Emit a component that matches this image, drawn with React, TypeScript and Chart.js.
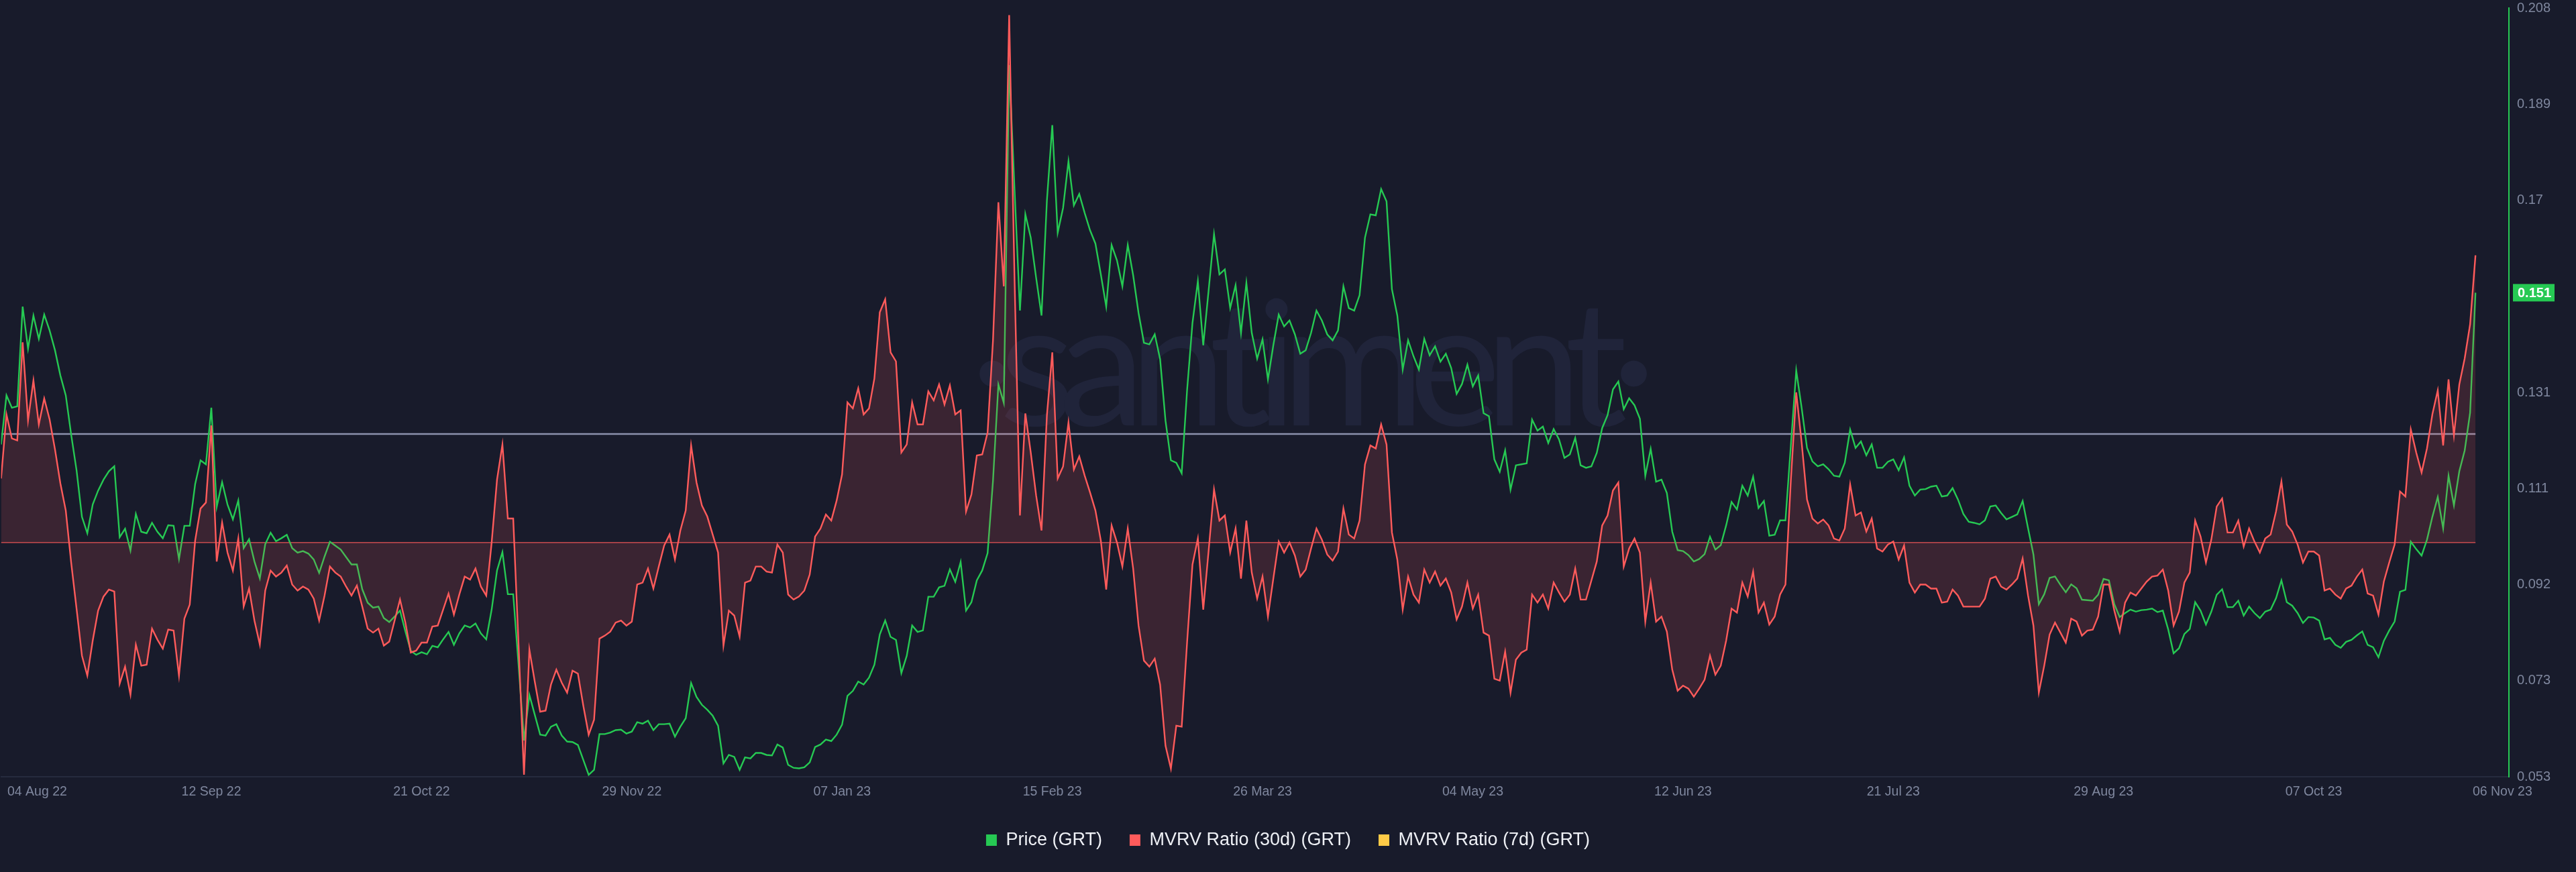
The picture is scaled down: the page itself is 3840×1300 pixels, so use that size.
import React, { useEffect, useRef } from 'react';
import { Chart, registerables } from 'chart.js';

Chart.register(...registerables);

// ---- data (one value per day, day 0 = 04 Aug 22, last day = 06 Nov 23) ----
const PRICE = [
  0.1203, 0.1302, 0.1277, 0.1280, 0.1481, 0.1396, 0.1463, 0.1416, 0.1465, 0.1433,
  0.1393, 0.1342, 0.1302, 0.1223, 0.1151, 0.1057, 0.1024, 0.1082, 0.1110, 0.1132,
  0.1149, 0.1159, 0.1016, 0.1033, 0.0989, 0.1063, 0.1027, 0.1024, 0.1045, 0.1027,
  0.1014, 0.1040, 0.1039, 0.0972, 0.1039, 0.1039, 0.1123, 0.1171, 0.1163, 0.1277,
  0.1077, 0.1127, 0.1082, 0.1052, 0.1090, 0.0994, 0.1012, 0.0967, 0.0933, 0.1002,
  0.1025, 0.1008, 0.1014, 0.1021, 0.0994, 0.0985, 0.0988, 0.0983, 0.0971, 0.0944,
  0.0977, 0.1007, 0.0999, 0.0991, 0.0976, 0.0961, 0.0961, 0.0911, 0.0884, 0.0874,
  0.0876, 0.0853, 0.0845, 0.0856, 0.0868, 0.0826, 0.0787, 0.0779, 0.0784, 0.0780,
  0.0797, 0.0794, 0.0810, 0.0825, 0.0799, 0.0822, 0.0838, 0.0834, 0.0842, 0.0822,
  0.0810, 0.0870, 0.0949, 0.0986, 0.0901, 0.0901, 0.0757, 0.0606, 0.0698, 0.0658,
  0.0618, 0.0616, 0.0634, 0.0639, 0.0616, 0.0604, 0.0603, 0.0597, 0.0567, 0.0537,
  0.0547, 0.0619, 0.0619, 0.0622, 0.0627, 0.0628, 0.0620, 0.0624, 0.0643, 0.0640,
  0.0646, 0.0627, 0.0639, 0.0639, 0.0640, 0.0614, 0.0634, 0.0651, 0.0722, 0.0694,
  0.0678, 0.0668, 0.0656, 0.0636, 0.0560, 0.0577, 0.0573, 0.0547, 0.0572, 0.0570,
  0.0581, 0.0581, 0.0577, 0.0576, 0.0598, 0.0592, 0.0557, 0.0551, 0.0550, 0.0552,
  0.0562, 0.0593, 0.0598, 0.0608, 0.0605, 0.0618, 0.0638, 0.0696, 0.0706, 0.0725,
  0.0719, 0.0733, 0.0759, 0.0820, 0.0848, 0.0815, 0.0809, 0.0742, 0.0777, 0.0838,
  0.0825, 0.0828, 0.0896, 0.0896, 0.0915, 0.0918, 0.0951, 0.0926, 0.0966, 0.0868,
  0.0885, 0.0929, 0.0949, 0.0984, 0.1130, 0.1324, 0.1287, 0.1968, 0.1716, 0.1473,
  0.1667, 0.1620, 0.1539, 0.1463, 0.1695, 0.1847, 0.1630, 0.1680, 0.1774, 0.1685,
  0.1708, 0.1670, 0.1635, 0.1608, 0.1546, 0.1481, 0.1605, 0.1574, 0.1522, 0.1605,
  0.1544, 0.1468, 0.1408, 0.1405, 0.1425, 0.1375, 0.1251, 0.1171, 0.1166, 0.1145,
  0.1312, 0.1448, 0.1532, 0.1403, 0.1514, 0.1627, 0.1546, 0.1556, 0.1478, 0.1524,
  0.1428, 0.1529, 0.1428, 0.1376, 0.1415, 0.1334, 0.1403, 0.1465, 0.1441, 0.1453,
  0.1425, 0.1386, 0.1393, 0.1428, 0.1473, 0.1453, 0.1425, 0.1413, 0.1433, 0.1522,
  0.1478, 0.1473, 0.1504, 0.1620, 0.1667, 0.1665, 0.1718, 0.1693, 0.1516, 0.1463,
  0.1354, 0.1413, 0.1381, 0.1354, 0.1416, 0.1383, 0.1401, 0.1370, 0.1386, 0.1357,
  0.1305, 0.1325, 0.1364, 0.1320, 0.1342, 0.1266, 0.1260, 0.1173, 0.1148, 0.1191,
  0.1112, 0.1161, 0.1163, 0.1165, 0.1253, 0.1231, 0.1239, 0.1206, 0.1234, 0.1213,
  0.1176, 0.1183, 0.1216, 0.1161, 0.1156, 0.1159, 0.1186, 0.1236, 0.1262, 0.1314,
  0.1330, 0.1274, 0.1296, 0.1282, 0.1255, 0.1140, 0.1194, 0.1128, 0.1132, 0.1105,
  0.1027, 0.0990, 0.0988, 0.0980, 0.0967, 0.0972, 0.0982, 0.1017, 0.0991, 0.1000,
  0.1040, 0.1087, 0.1072, 0.1120, 0.1100, 0.1138, 0.1075, 0.1089, 0.1019, 0.1021,
  0.1050, 0.1050, 0.1201, 0.1352, 0.1277, 0.1196, 0.1169, 0.1159, 0.1163, 0.1153,
  0.1140, 0.1138, 0.1166, 0.1233, 0.1196, 0.1209, 0.1181, 0.1203, 0.1156, 0.1156,
  0.1168, 0.1173, 0.1151, 0.1177, 0.1120, 0.1100, 0.1112, 0.1113, 0.1118, 0.1120,
  0.1098, 0.1100, 0.1115, 0.1092, 0.1063, 0.1047, 0.1045, 0.1042, 0.1050, 0.1078,
  0.1080, 0.1065, 0.1052, 0.1057, 0.1062, 0.1089, 0.1034, 0.0981, 0.0881, 0.0901,
  0.0934, 0.0937, 0.0920, 0.0905, 0.0921, 0.0913, 0.0890, 0.0889, 0.0888, 0.0900,
  0.0932, 0.0929, 0.0881, 0.0855, 0.0863, 0.0870, 0.0866, 0.0869, 0.0870, 0.0872,
  0.0865, 0.0868, 0.0830, 0.0782, 0.0792, 0.0821, 0.0831, 0.0885, 0.0868, 0.0840,
  0.0866, 0.0900, 0.0911, 0.0875, 0.0875, 0.0888, 0.0858, 0.0876, 0.0863, 0.0853,
  0.0866, 0.0870, 0.0893, 0.0929, 0.0885, 0.0878, 0.0863, 0.0843, 0.0855, 0.0854,
  0.0848, 0.0810, 0.0813, 0.0799, 0.0793, 0.0805, 0.0809, 0.0818, 0.0826, 0.0799,
  0.0794, 0.0774, 0.0807, 0.0828, 0.0846, 0.0906, 0.0910, 0.1007, 0.0992, 0.0979,
  0.1011, 0.1057, 0.1097, 0.1034, 0.1140, 0.1080, 0.1149, 0.1191, 0.1267, 0.1509,
];

// MVRV Ratio (30d), in percent
const MVRV_30D = [
  6.4, 12.8, 10.4, 10.2, 20.0, 12.2, 16.2, 11.8, 14.4, 12.3,
  9.3, 5.9, 3.2, -2.0, -6.6, -11.3, -13.3, -9.8, -6.8, -5.4,
  -4.7, -4.9, -14.1, -12.4, -15.2, -10.2, -12.3, -12.2, -8.6, -9.7,
  -10.6, -8.7, -8.8, -13.3, -7.6, -6.2, 0.2, 3.4, 4.0, 11.7,
  -1.9, 2.0, -1.0, -2.8, 0.4, -6.4, -4.6, -7.8, -10.2, -4.8,
  -2.8, -3.4, -3.0, -2.3, -4.2, -4.8, -4.4, -4.7, -5.6, -7.8,
  -5.3, -2.4, -3.0, -3.4, -4.4, -5.3, -4.3, -6.4, -8.6, -9.0,
  -8.6, -10.3, -9.9, -7.8, -5.7, -8.0, -11.0, -10.8, -10.0, -10.0,
  -8.4, -8.3, -6.7, -5.1, -7.2, -5.2, -3.4, -3.7, -2.6, -4.4,
  -5.3, 0.0, 6.3, 9.8, 2.4, 2.4, -10.3, -23.2, -10.7, -13.9,
  -16.9, -16.8, -14.2, -12.7, -14.0, -15.0, -12.8, -13.1, -16.3, -19.2,
  -17.7, -9.6, -9.3, -8.9, -8.0, -7.8, -8.3, -7.9, -4.2, -4.0,
  -2.6, -4.6, -2.4, -0.3, 0.8, -1.7, 1.2, 3.2, 9.7, 6.0,
  3.7, 2.6, 0.8, -1.0, -10.3, -6.8, -7.3, -9.4, -4.0, -3.8,
  -2.4, -2.4, -2.9, -3.0, -0.2, -1.0, -5.2, -5.7, -5.4, -4.8,
  -3.2, 0.6, 1.4, 2.8, 2.2, 4.2, 6.8, 14.0, 13.4, 15.4,
  12.8, 13.4, 16.4, 23.0, 24.3, 19.0, 18.1, 9.0, 9.8, 14.0,
  11.8, 11.8, 15.1, 14.2, 15.8, 13.8, 15.7, 12.8, 13.2, 3.1,
  4.8, 8.7, 8.8, 11.0, 20.2, 34.0, 25.6, 52.7, 26.2, 2.7,
  12.9, 9.0, 4.7, 1.2, 12.7, 19.0, 6.4, 7.6, 12.0, 7.3,
  8.6, 6.7, 5.0, 3.2, 0.2, -4.7, 1.7, 0.0, -2.4, 1.4,
  -2.6, -8.3, -11.8, -12.4, -11.6, -14.2, -20.3, -22.6, -18.3, -18.4,
  -10.0, -2.2, 0.4, -6.7, -0.8, 5.3, 2.2, 2.7, -1.0, 1.4,
  -3.6, 2.2, -3.0, -5.6, -3.4, -7.4, -3.6, 0.1, -1.0, 0.0,
  -1.3, -3.4, -2.7, -0.6, 1.4, 0.3, -1.2, -1.8, -0.9, 3.4,
  0.8, 0.4, 2.2, 7.8, 9.7, 9.4, 11.8, 9.8, 1.0, -1.7,
  -6.7, -3.4, -5.2, -6.0, -2.7, -4.0, -2.9, -4.3, -3.6, -5.0,
  -7.7, -6.4, -4.0, -6.6, -5.2, -9.0, -9.3, -13.6, -13.8, -10.9,
  -15.0, -11.7, -11.0, -10.7, -5.2, -6.0, -5.2, -6.6, -4.0, -5.0,
  -5.9, -5.2, -2.6, -5.7, -5.7, -3.8, -1.9, 1.7, 2.7, 5.2,
  6.0, -2.4, -0.6, 0.4, -1.0, -7.9, -4.0, -7.9, -7.4, -8.9,
  -12.7, -14.8, -14.3, -14.6, -15.4, -14.6, -13.7, -11.3, -13.2, -12.3,
  -9.8, -6.6, -7.0, -4.0, -5.4, -2.9, -7.0, -6.0, -8.2, -7.4,
  -5.2, -4.2, 6.2, 15.0, 10.0, 4.3, 2.4, 1.9, 2.3, 1.7,
  0.4, 0.2, 1.4, 5.8, 2.7, 3.0, 1.1, 2.4, -0.6, -0.9,
  -0.2, 0.1, -1.7, -0.3, -4.0, -5.0, -4.2, -4.2, -4.6, -4.6,
  -6.0, -5.9, -4.7, -5.3, -6.4, -6.4, -6.4, -6.4, -5.6, -3.6,
  -3.4, -4.4, -4.7, -4.2, -3.6, -1.6, -5.3, -8.3, -15.0, -12.3,
  -9.2, -8.0, -9.0, -10.0, -7.6, -7.9, -9.3, -8.8, -8.7, -7.4,
  -4.2, -4.2, -6.8, -8.9, -6.0, -5.0, -5.3, -4.6, -3.9, -3.4,
  -3.3, -2.7, -4.8, -8.3, -6.9, -4.0, -3.0, 2.2, 0.6, -2.0,
  0.3, 3.6, 4.4, 1.0, 1.0, 2.2, -0.4, 1.4, 0.1, -1.0,
  0.4, 0.8, 3.1, 6.1, 1.8, 1.1, -0.2, -2.0, -0.9, -0.9,
  -1.3, -4.8, -4.6, -5.2, -5.6, -4.6, -4.3, -3.4, -2.7, -5.1,
  -5.3, -7.2, -3.9, -2.0, -0.2, 5.1, 4.6, 11.3, 9.0, 7.0,
  9.4, 12.8, 15.2, 9.7, 16.3, 10.7, 15.8, 18.4, 21.8, 28.7,
];

const MVRV_7D: number[] = [];
const MVRV_REFERENCE_LEVEL = 10.85;
const MVRV_BASELINE = 0;

const SERIES_LABELS = ['Price (GRT)', 'MVRV Ratio (30d) (GRT)', 'MVRV Ratio (7d) (GRT)'];
const SERIES_COLORS = ['#26c953', '#ff5b5b', '#ffcb47'];

const X_TICK_DAYS = [0, 39, 78, 117, 156, 195, 234, 273, 312, 351, 390, 429, 459];
const X_TICK_LABELS = [
  '04 Aug 22', '12 Sep 22', '21 Oct 22', '29 Nov 22', '07 Jan 23', '15 Feb 23', '26 Mar 23',
  '04 May 23', '12 Jun 23', '21 Jul 23', '29 Aug 23', '07 Oct 23', '06 Nov 23',
];
const FIRST_LABEL_SHIFT_DAYS = 6.7;
const LAST_LABEL_SHIFT_DAYS = 5.0;
const X_MAX_DAY = 465.2;

const PRICE_MIN = 0.0533;
const PRICE_MAX = 0.2083;
const PRICE_TICKS = [0.0533, 0.07268, 0.09205, 0.11143, 0.1308, 0.15018, 0.16955, 0.18893, 0.2083];
const PRICE_TICK_LABELS = ['0.053', '0.073', '0.092', '0.111', '0.131', '0.15', '0.17', '0.189', '0.208'];
const MVRV_MIN = -23.4;
const MVRV_MAX = 53.4;

const BG = '#181b2b';
const FONT = "'Liberation Sans', Arial, sans-serif";
const TICK_COLOR = '#7f879e';

export default function App() {
  const ref = useRef<HTMLCanvasElement | null>(null);

  useEffect(() => {
    document.body.style.margin = '0';
    document.body.style.background = BG;
    const canvas = ref.current;
    if (!canvas) return;

    const lastDay = PRICE.length - 1;

    const bgPlugin = {
      id: 'bg',
      beforeDraw(chart: any) {
        const { ctx, width, height } = chart;
        ctx.save();
        ctx.fillStyle = BG;
        ctx.fillRect(0, 0, width, height);
        ctx.restore();
      },
    };

    const watermarkPlugin = {
      id: 'watermark',
      beforeDatasetsDraw(chart: any) {
        const { ctx, chartArea } = chart;
        ctx.save();
        ctx.font = "400 260px Lato, 'Open Sans', sans-serif";
        try {
          (ctx as any).letterSpacing = '-24px';
        } catch (e) {
          /* ignore */
        }
        ctx.fillStyle = '#20243a';
        ctx.textAlign = 'center';
        ctx.textBaseline = 'alphabetic';
        ctx.fillText('·santiment·', chartArea.left + chartArea.width * 0.52, chartArea.top + chartArea.height * 0.543);
        ctx.restore();
      },
    };

    const badgePlugin = {
      id: 'badge',
      afterDraw(chart: any) {
        const scale = chart.scales.price;
        const last = PRICE[PRICE.length - 1];
        const y = scale.getPixelForValue(last);
        const { ctx } = chart;
        ctx.save();
        ctx.fillStyle = SERIES_COLORS[0];
        ctx.fillRect(scale.left + 6, y - 13, 62, 26);
        ctx.fillStyle = '#ffffff';
        ctx.font = `600 20px ${FONT}`;
        ctx.textAlign = 'left';
        ctx.textBaseline = 'middle';
        ctx.fillText(last.toFixed(3), scale.left + 13, y + 1);
        ctx.restore();
      },
    };

    const chart = new Chart(canvas, {
      type: 'line',
      data: {
        datasets: [
          {
            label: SERIES_LABELS[0],
            data: PRICE.map((v, i) => ({ x: i, y: v })),
            yAxisID: 'price',
            borderColor: SERIES_COLORS[0],
            backgroundColor: SERIES_COLORS[0],
            borderWidth: 2.4,
            pointRadius: 0,
            pointHoverRadius: 0,
            tension: 0,
            fill: false,
            order: 2,
          },
          {
            label: SERIES_LABELS[1],
            data: MVRV_30D.map((v, i) => ({ x: i, y: v })),
            yAxisID: 'mvrv',
            borderColor: SERIES_COLORS[1],
            backgroundColor: 'rgba(255, 91, 91, 0.15)',
            borderWidth: 2.4,
            pointRadius: 0,
            pointHoverRadius: 0,
            tension: 0,
            fill: { value: MVRV_BASELINE },
            order: 1,
          },
          {
            label: SERIES_LABELS[2],
            data: MVRV_7D.map((v, i) => ({ x: i, y: v })),
            yAxisID: 'mvrv',
            borderColor: SERIES_COLORS[2],
            backgroundColor: SERIES_COLORS[2],
            borderWidth: 2,
            pointRadius: 0,
            order: 0,
          },
          {
            label: 'baseline',
            data: [{ x: 0, y: MVRV_BASELINE }, { x: lastDay, y: MVRV_BASELINE }],
            yAxisID: 'mvrv',
            borderColor: 'rgba(255, 91, 91, 0.9)',
            borderWidth: 1.3,
            pointRadius: 0,
            order: 4,
          },
          {
            label: 'reference',
            data: [{ x: 0, y: MVRV_REFERENCE_LEVEL }, { x: lastDay, y: MVRV_REFERENCE_LEVEL }],
            yAxisID: 'mvrv',
            borderColor: '#8b91ad',
            borderWidth: 2.5,
            pointRadius: 0,
            order: 3,
          },
        ],
      },
      options: {
        responsive: false,
        animation: false,
        events: [],
        layout: { padding: { top: 0, bottom: 24, left: 0, right: 0 } },
        plugins: {
          tooltip: { enabled: false },
          legend: {
            position: 'bottom',
            labels: {
              boxWidth: 16,
              boxHeight: 17,
              padding: 41,
              color: '#eef0f5',
              font: { size: 27, family: FONT },
              filter: (item: any) => item.datasetIndex <= 2,
              sort: (a: any, b: any) => a.datasetIndex - b.datasetIndex,
              generateLabels: (c: any) =>
                (Chart.defaults.plugins.legend.labels.generateLabels as any)(c).map((l: any) => ({
                  ...l,
                  fillStyle: SERIES_COLORS[l.datasetIndex] ?? l.fillStyle,
                  strokeStyle: SERIES_COLORS[l.datasetIndex] ?? l.strokeStyle,
                  lineWidth: 0,
                })),
            },
          },
        },
        scales: {
          x: {
            type: 'linear',
            min: 0,
            max: X_MAX_DAY,
            grid: { display: false, drawTicks: false },
            border: { display: true, color: '#262b3e', width: 2 },
            ticks: {
              color: TICK_COLOR,
              font: { size: 19.5, family: FONT },
              padding: 11,
              autoSkip: false,
              maxRotation: 0,
              minRotation: 0,
              callback: (_v: any, i: number) => X_TICK_LABELS[i],
            },
            afterBuildTicks: (s: any) => {
              s.ticks = X_TICK_DAYS.map((d, i) => ({
                value:
                  d +
                  (i === 0 ? FIRST_LABEL_SHIFT_DAYS : 0) +
                  (i === X_TICK_DAYS.length - 1 ? LAST_LABEL_SHIFT_DAYS : 0),
              }));
            },
            afterFit: (s: any) => {
              s.height = 40;
            },
          },
          price: {
            type: 'linear',
            position: 'right',
            min: PRICE_MIN,
            max: PRICE_MAX,
            grid: { display: false, drawTicks: false },
            border: { display: true, color: SERIES_COLORS[0], width: 2 },
            ticks: {
              color: TICK_COLOR,
              font: { size: 20, family: FONT },
              padding: 12,
              callback: (_v: any, i: number) => PRICE_TICK_LABELS[i],
            },
            afterBuildTicks: (s: any) => {
              s.ticks = PRICE_TICKS.map((v) => ({ value: v }));
            },
            afterFit: (s: any) => {
              s.width = 100;
              s.paddingTop = 12;
              s.paddingBottom = 12;
            },
          },
          mvrv: {
            type: 'linear',
            display: false,
            min: MVRV_MIN,
            max: MVRV_MAX,
          },
        },
      } as any,
      plugins: [bgPlugin, watermarkPlugin, badgePlugin],
    });

    return () => chart.destroy();
  }, []);

  return (
    <div style={{ width: 3840, height: 1300, background: BG }}>
      <canvas ref={ref} width={3840} height={1300} style={{ display: 'block' }} />
    </div>
  );
}
